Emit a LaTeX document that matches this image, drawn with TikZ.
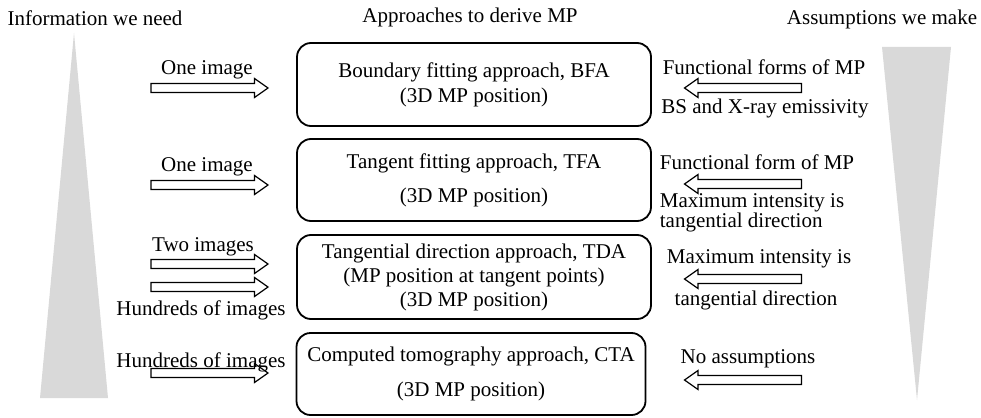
\documentclass[tikz,border=0pt]{standalone}
\usepackage{fontspec}
\setmainfont{Liberation Serif}
\begin{document}
\begin{tikzpicture}[x=1pt,y=-1pt,
  every node/.style={font=\fontsize{21}{21}\selectfont, inner sep=0pt},
  box/.style={draw, line width=1.8pt, rounded corners=14pt, minimum width=354pt, align=center},
  arrline/.style={draw, line width=1.2pt, fill=white, line join=miter},
  tri/.style={fill=black!15},
  blockR/.pic={\path[arrline] (-58.5,-4.5) -- (45,-4.5) -- (45,-9.5) -- (58.5,0) -- (45,9.5) -- (45,4.5) -- (-58.5,4.5) -- cycle;},
  blockL/.pic={\path[arrline] (58.5,-4.5) -- (-45,-4.5) -- (-45,-9.5) -- (-58.5,0) -- (-45,9.5) -- (-45,4.5) -- (58.5,4.5) -- cycle;}
]
\useasboundingbox (0,0) rectangle (981,417);

% triangles
\fill[tri] (40,398) -- (108,398) -- (74,33) -- cycle;
\fill[tri] (882,47) -- (951,47) -- (917,400) -- cycle;

% headers
\node (h1) at (95,18) {Information we need};
\node (h2) at (470,17) {Approaches to derive MP};
\node (h3) at (882,19) {Assumptions we make};

% boxes
\node[box, minimum height=83pt, font=\fontsize{21}{25}\selectfont] (b1) at (474,84.5) {Boundary fitting approach, BFA\\(3D MP position)};
\node[box, minimum height=82pt, font=\fontsize{21}{34}\selectfont] (b2) at (474,180) {Tangent fitting approach, TFA\\(3D MP position)};
\node[box, minimum height=84pt, font=\fontsize{21}{24}\selectfont] (b3) at (474,277) {Tangential direction approach, TDA\\(MP position at tangent points)\\(3D MP position)};
\node[box, minimum height=82pt, minimum width=349pt, font=\fontsize{21}{35}\selectfont] (b4) at (471,374) {Computed tomography approach, CTA\\(3D MP position)};

% left arrows
\pic at (209.5,88) {blockR};
\pic at (209.5,185) {blockR};
\pic at (209.5,264) {blockR};
\pic at (209.5,287) {blockR};
\pic at (209.5,373) {blockR};

\node (l1) at (207,70) {One image};
\node (l2) at (207,167) {One image};
\node (l3) at (203,247) {Two images};
\node (l4) at (201,310) {Hundreds of images};
\node (l5) at (201,362) {Hundreds of images};

% right arrows
\pic at (743,88) {blockL};
\pic at (743,184) {blockL};
\pic at (743,279) {blockL};
\pic at (743,380) {blockL};

\node (r1) at (764,67) {Functional forms of MP};
\node (r2) at (765,108) {BS and X-ray emissivity};
\node (r3) at (757,162) {Functional form of MP};
\node[align=left, font=\fontsize{21}{18}\selectfont] (r4) at (752,213) {Maximum intensity is\\tangential direction};
\node (r5) at (759,259) {Maximum intensity is};
\node (r6) at (756,300) {tangential direction};
\node (r7) at (748,359) {No assumptions};
\end{tikzpicture}
\end{document}
